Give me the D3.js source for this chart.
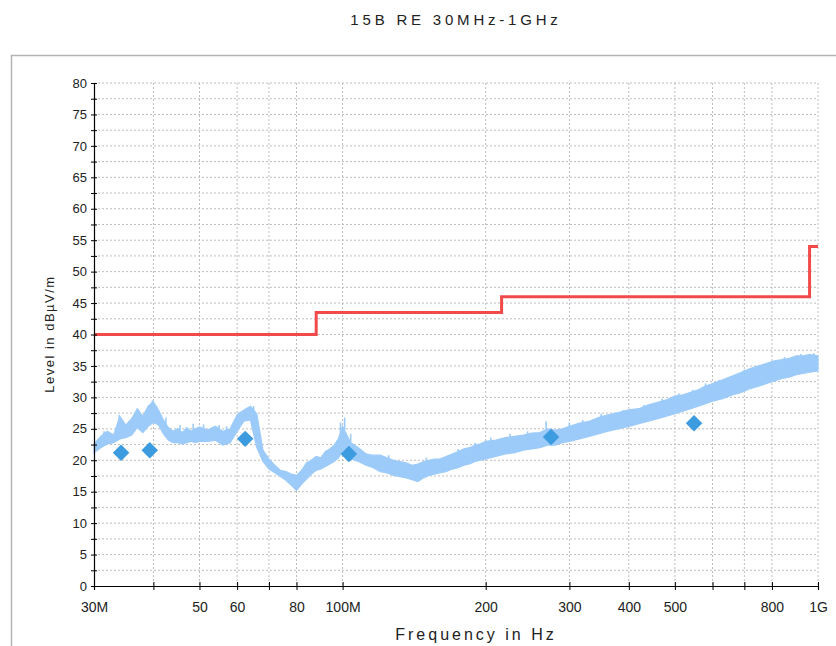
<!DOCTYPE html>
<html>
<head>
<meta charset="utf-8">
<script src="https://cdn.jsdelivr.net/npm/d3@7"></script>
<style>
  body { margin: 0; background: #fff; }
  text { font-family: "Liberation Sans", Arial, sans-serif; fill: #222; }
</style>
</head>
<body>
<svg id="chart" width="836" height="646"></svg>
<script>
// chart data (frequency in MHz, level in dBuV/m)
var traceFreq = [30,31,32,33,34,35,36,37,38,39,40,41,42,43,44,45,46,47,48,49,50,
  52,54,56,58,60,62,64,66,68,70,72,74,76,78,80,82,84,86,88,90,92,94,96,98,100,
  104,108,112,116,120,124,128,132,136,140,144,148,152,156,160,165,170,175,180,185,190,195,200,
  210,220,230,240,250,260,270,280,290,300,315,330,345,360,380,400,
  420,440,460,480,500,520,540,560,580,600,630,660,690,720,750,780,810,840,870,900,930,960,1000];
var traceHi = [22.6,23.8,24.6,24.0,27.0,25.6,26.6,28.2,27.0,28.6,29.3,28.0,26.4,25.2,24.6,25.0,24.4,25.2,24.6,25.0,25.3,
  24.8,25.4,24.6,25.0,27.2,28.0,28.6,27.4,21.6,20.2,19.2,18.4,18.2,17.8,17.6,18.4,19.6,20.0,20.6,20.4,21.4,21.8,22.4,23.4,25.4,
  22.8,22.0,21.0,20.8,20.8,20.4,20.0,19.8,19.6,19.2,19.4,19.8,20.0,20.2,20.2,20.6,21.0,21.4,21.8,22.0,22.4,22.6,23.0,
  23.2,23.6,23.8,24.0,24.3,24.4,25.0,24.8,25.0,25.4,25.9,26.2,26.8,27.2,27.6,28.0,
  28.2,28.8,29.2,29.6,30.2,30.4,30.8,31.2,31.8,32.2,32.8,33.4,34.0,34.6,35.0,35.4,35.8,36.0,36.2,36.6,36.6,36.8,36.6];
var traceLo = [21.2,22.0,22.6,22.8,23.4,23.6,24.0,25.2,24.4,25.4,26.0,25.6,24.2,23.2,22.8,22.8,22.6,22.8,23.0,22.8,23.0,
  23.0,23.2,22.4,22.8,24.6,26.2,26.4,22.0,19.8,18.6,18.0,17.4,16.8,16.0,15.2,16.2,17.0,17.8,18.4,18.6,19.0,19.4,19.8,20.4,21.4,
  20.2,19.8,19.2,18.8,18.2,18.0,17.6,17.4,17.2,16.9,16.6,17.2,17.6,17.8,18.0,18.2,18.6,18.8,19.2,19.4,19.8,20.0,20.2,
  20.6,21.0,21.2,21.6,21.8,22.0,22.4,22.4,22.8,23.0,23.4,23.8,24.2,24.6,25.0,25.4,
  25.8,26.2,26.6,27.0,27.4,27.8,28.2,28.6,29.0,29.4,29.8,30.4,30.8,31.4,31.8,32.2,32.6,33.0,33.2,33.6,33.8,34.0,34.2];

// narrow noise spikes sticking out of the trace
var spikeFreq = [31.5,33.9,35.5,37.2,39.8,40.6,42.5,45.5,48.5,51,55,57,60.5,63,65,99,101,104,125,150,175,190,
  205,225,245,268,300,320,350,390,430,470,510,545,580,620,655,700,740,790,850,920,980];
var spikeLevel = [24.6,27.2,26.2,28.0,29.5,28.6,26.8,25.6,25.8,25.7,25.6,25.4,27.6,28.3,28.6,26.0,26.8,24.2,20.8,20.4,21.8,22.8,
  23.6,24.2,24.6,26.2,26.0,26.4,27.4,28.0,28.8,29.8,30.6,31.2,32.2,32.8,33.4,34.4,34.9,35.6,36.4,36.9,37.0];

// quasi-peak markers
var peakFreq = [34.2, 39.3, 62.4, 103.1, 274.5, 548.7];
var peakLevel = [21.2, 21.6, 23.4, 21.0, 23.7, 25.9];

// limit line (steps)
var limitFreq = [30, 88, 216, 960, 1000];
var limitLevel = [40, 43.5, 46, 54, 54];

// axis ticks
var xTickValues = [30,40,50,60,70,80,100,200,300,400,500,600,700,800,1000];
var xTickLabels = ["30M","","50","60","","80","100M","200","300","400","500","","","800","1G"];
var yTickValues = [0,2.5,5,7.5,10,12.5,15,17.5,20,22.5,25,27.5,30,32.5,35,37.5,40,42.5,45,47.5,50,52.5,55,57.5,60,62.5,65,67.5,70,72.5,75,77.5,80];

var PLOT_LEFT = 94, PLOT_RIGHT = 818, PLOT_TOP = 83, PLOT_BOTTOM = 586;
var TRACE_COLOR = "#9ccbfa";

var svg = d3.select("#chart");

// outer frame
svg.append("rect")
   .attr("x", 11.5).attr("y", 55.5)
   .attr("width", 900).attr("height", 700)
   .attr("fill", "none")
   .attr("stroke", "#b4b4b4")
   .attr("stroke-width", 1.5);

var x = d3.scaleLog().domain([30, 1000]).range([PLOT_LEFT, PLOT_RIGHT]);
var y = d3.scaleLinear().domain([0, 80]).range([PLOT_BOTTOM, PLOT_TOP]);

// grid lines
var grid = svg.append("g").attr("class", "grid");
grid.selectAll(".hgrid").data(yTickValues.slice(1)).enter()
    .append("line")
    .attr("x1", PLOT_LEFT).attr("x2", PLOT_RIGHT)
    .attr("y1", function(d) { return y(d); })
    .attr("y2", function(d) { return y(d); })
    .attr("stroke", "#bdbdbd")
    .attr("stroke-dasharray", "2,2");
grid.selectAll(".vgrid").data(xTickValues.slice(1)).enter()
    .append("line")
    .attr("x1", function(d) { return x(d); })
    .attr("x2", function(d) { return x(d); })
    .attr("y1", PLOT_TOP).attr("y2", PLOT_BOTTOM)
    .attr("stroke", "#bdbdbd")
    .attr("stroke-dasharray", "2,2");

// measured trace as a band between low and high envelopes
var traceData = traceFreq.map(function(f, i) { return [f, traceLo[i], traceHi[i]]; });
var band = d3.area()
    .x(function(d) { return x(d[0]); })
    .y0(function(d) { return y(d[1]); })
    .y1(function(d) { return y(d[2]); });
svg.append("path")
   .datum(traceData)
   .attr("d", band)
   .attr("fill", TRACE_COLOR)
   .attr("stroke", TRACE_COLOR)
   .attr("stroke-width", 1.2);

// spikes
svg.selectAll(".spike").data(spikeFreq).enter()
   .append("line")
   .attr("x1", function(d) { return x(d); })
   .attr("x2", function(d) { return x(d); })
   .attr("y1", function(d, i) { return y(spikeLevel[i]); })
   .attr("y2", function(d, i) { return y(spikeLevel[i] - 2); })
   .attr("stroke", TRACE_COLOR)
   .attr("stroke-width", 1.6);

// limit line
var limitData = limitFreq.map(function(f, i) { return [f, limitLevel[i]]; });
var limitLine = d3.line()
    .x(function(d) { return x(d[0]); })
    .y(function(d) { return y(d[1]); })
    .curve(d3.curveStepAfter);
svg.append("path")
   .datum(limitData)
   .attr("d", limitLine)
   .attr("fill", "none")
   .attr("stroke", "#f24a4a")
   .attr("stroke-width", 3);

// quasi-peak diamonds
var diamond = d3.symbol().type(d3.symbolSquare).size(136);
svg.selectAll(".peak").data(peakFreq).enter()
   .append("path")
   .attr("d", diamond)
   .attr("transform", function(d, i) {
       return "translate(" + x(d) + "," + y(peakLevel[i]) + ") rotate(45)";
   })
   .attr("fill", "#3d9be0");

// x axis
var xAxis = d3.axisBottom(x)
    .tickValues(xTickValues)
    .tickFormat(function(d, i) { return xTickLabels[i]; })
    .tickSize(4).tickPadding(12);
var gx = svg.append("g")
    .attr("transform", "translate(0," + PLOT_BOTTOM + ")")
    .call(xAxis);
gx.select(".domain").attr("stroke", "#000").attr("stroke-width", 1.2);
gx.selectAll(".tick line").attr("y1", -4).attr("y2", 4).attr("stroke", "#000");
gx.selectAll(".tick text").attr("font-size", 14).attr("fill", "#222")
  .attr("font-family", "Liberation Sans, Arial, sans-serif");

// y axis
var yAxis = d3.axisLeft(y)
    .tickValues(yTickValues)
    .tickFormat(function(d) { return d % 5 == 0 ? d : ""; })
    .tickSize(3).tickPadding(4);
var gy = svg.append("g")
    .attr("transform", "translate(" + PLOT_LEFT + ",0)")
    .call(yAxis);
gy.select(".domain").attr("stroke", "#000").attr("stroke-width", 1.2);
gy.selectAll(".tick line").attr("x1", -3).attr("x2", 3).attr("stroke", "#000");
gy.selectAll(".tick text").attr("font-size", 13).attr("fill", "#222")
  .attr("font-family", "Liberation Sans, Arial, sans-serif");

// titles
svg.append("text")
   .attr("x", 456).attr("y", 25)
   .attr("text-anchor", "middle")
   .attr("font-size", 15)
   .attr("letter-spacing", "3.8px")
   .text("15B RE 30MHz-1GHz");

svg.append("text")
   .attr("x", 476).attr("y", 640)
   .attr("text-anchor", "middle")
   .attr("font-size", 16)
   .attr("letter-spacing", "3px")
   .text("Frequency in Hz");

svg.append("text")
   .attr("transform", "translate(54,334) rotate(-90)")
   .attr("text-anchor", "middle")
   .attr("font-size", 13)
   .attr("letter-spacing", "1.5px")
   .text("Level in dBµV/m");
</script>
</body>
</html>
